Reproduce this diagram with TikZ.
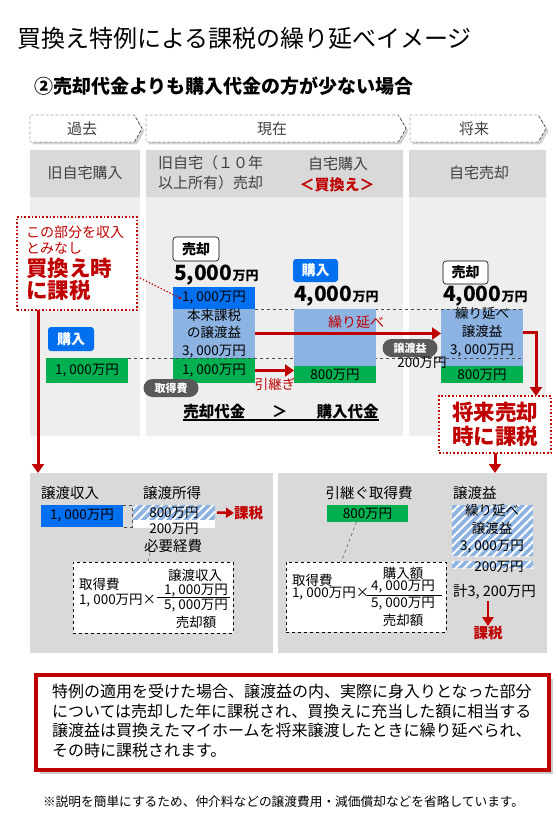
\documentclass[tikz,border=0pt]{standalone}
\usepackage{fontspec}
\setmainfont{Noto Sans CJK JP}
\usetikzlibrary{arrows.meta,patterns.meta,shadows,shapes.symbols,positioning}

\definecolor{taxred}{RGB}{192,0,0}
\definecolor{barblue}{RGB}{0,112,240}
\definecolor{gainblue}{RGB}{141,179,226}
\definecolor{costgreen}{RGB}{0,176,80}
\definecolor{panelgray}{RGB}{217,217,217}
\definecolor{dotgray}{RGB}{238,238,238}
\definecolor{pillgray}{RGB}{89,89,89}
\definecolor{headtext}{RGB}{64,64,64}

\newcommand\fsz[2]{\fontsize{#1pt}{#2pt}\selectfont}

\begin{document}
\begin{tikzpicture}[x=1pt,y=-1pt,
  every node/.style={inner sep=0pt,outer sep=0pt},
  bar/.style={anchor=north west,align=center,font=\fsz{13.5}{17.5}},
  tag/.style={anchor=north west,rounded corners=3pt,minimum width=46pt,minimum height=24pt,font=\bfseries\fsz{14}{16}},
  pill/.style={fill=pillgray,rounded corners=9pt,text=white,minimum width=55pt,minimum height=18pt,font=\bfseries\fsz{11}{13}},
  phase/.style={signal,signal to=east,signal pointer angle=120,draw,densely dashed,fill=white,anchor=west,
    minimum height=27pt,text=headtext,font=\fsz{15}{18},
    drop shadow={shadow xshift=2.5pt,shadow yshift=-2.5pt,fill=black!35}},
  headtxt/.style={text=headtext,font=\fsz{15}{20}},
  redarrow/.style={taxred,line width=3pt,-{Triangle[length=9pt,width=12pt]}},
  callout/.style={draw=taxred,line width=1.6pt,dotted,fill=white,anchor=north west},
  hatch/.style={fill=gainblue,postaction={pattern={Lines[angle=45,distance=6pt,line width=2pt]},pattern color=white}},
  guide/.style={dashed,black!70,line width=0.5pt},
  memo/.style={draw,dashed,fill=white,anchor=north west,line width=0.6pt},
  txt/.style={font=\fsz{13.5}{16}},
  label/.style={font=\fsz{14.5}{17}},
]
\useasboundingbox (0,0) rectangle (557,837);

% title
\node[anchor=west,font=\fsz{24}{28}] (title) at (17,38) {買換え特例による課税の繰り延べイメージ};
\node[anchor=west,font=\bfseries\fsz{19}{22}] (subtitle) at (34,86) {②売却代金よりも購入代金の方が少ない場合};

% time line
\node[phase,minimum width=112pt] (past) at (30,128.5) {過去};
\node[phase,minimum width=260pt] (now) at (146,128.5) {現在};
\node[phase,minimum width=136pt] (future) at (410,128.5) {将来};

\fill[dotgray] (30,197) rectangle (140,436) (146,197) rectangle (403,436) (409,197) rectangle (546,436);
\fill[panelgray] (30,150) rectangle (140,197) (146,150) rectangle (403,197) (409,150) rectangle (546,197);
\node[headtxt] (oldbuy) at (85,173) {旧自宅購入};
\node[headtxt,anchor=west,align=left] (oldsell) at (158,173) {旧自宅（１０年\\以上所有）売却};
\node[headtxt] (newbuy) at (338,164) {自宅購入};
\node[text=taxred,font=\bfseries\fsz{15}{18}] (kaikae) at (337,185) {＜買換え＞};
\node[headtxt] (futsell) at (479,173) {自宅売却};

% past
\node[callout,minimum width=120pt,minimum height=93pt] (note1) at (17,217) {};
\node[anchor=west,text=taxred,font=\fsz{14}{16}] (note1a) at (26,232) {この部分を収入};
\node[anchor=west,text=taxred,font=\fsz{14}{16}] (note1b) at (26,248) {とみなし};
\node[anchor=west,text=taxred,font=\bfseries\fsz{21.5}{24}] (note1c) at (26,268) {買換え時};
\node[anchor=west,text=taxred,font=\bfseries\fsz{21.5}{24}] (note1d) at (26,290) {に課税};
\node[tag,fill=barblue,text=white,minimum width=46pt] (oldbuytag) at (48,327) {購入};
\node[bar,fill=costgreen,minimum width=82pt,minimum height=25pt] (oldcost) at (46,358) {1, 000万円};

% now: sale
\node[tag,draw,fill=white,line width=0.6pt] (selltag) at (173,237) {売却};
\node[anchor=west] (sellamt) at (174,275) {\bfseries\fsz{21}{24}5,000\fsz{13}{15}万円};
\node[bar,fill=barblue,minimum width=82pt,minimum height=22pt] (soldcash) at (173,287) {1, 000万円};
\node[bar,fill=gainblue,minimum width=82pt,minimum height=49pt] (soldgain) at (173,309) {本来課税\\の譲渡益\\3, 000万円};
\node[bar,fill=costgreen,minimum width=82pt,minimum height=25pt] (soldcost) at (173,358) {1, 000万円};
\node[pill] (costpill) at (171,388) {取得費};

% future
\node[tag,draw,fill=white,line width=0.6pt,minimum width=45pt,minimum height=23pt] (futselltag) at (443,261) {売却};
\node[anchor=west] (futamt) at (443,296) {\bfseries\fsz{21}{24}4,000\fsz{13}{15}万円};
\node[bar,fill=gainblue,minimum width=82pt,minimum height=57pt] (futgain) at (441,309) {};
\node[txt,align=center,font=\fsz{13.5}{18}] (futgaintxt) at (482,332) {繰り延べ\\譲渡益\\3, 000万円};
\node[bar,fill=costgreen,minimum width=82pt,minimum height=17pt] (futcost) at (441,366) {800万円};

\draw[guide] (soldgain.north east) -- (futgain.north east);
\draw[guide] (oldcost.north east) -- (oldcost.north east -| futgain.east);

% now: purchase
\node[tag,fill=barblue,text=white,minimum width=45pt,minimum height=23pt] (buytag) at (293,259) {購入};
\node[anchor=west] (buyamt) at (294,296) {\bfseries\fsz{21}{24}4,000\fsz{13}{15}万円};
\node[bar,fill=gainblue,minimum width=82pt,minimum height=57pt] (newgain) at (294,309) {};
\node[bar,fill=costgreen,minimum width=82pt,minimum height=17pt] (newcost) at (294,366) {800万円};
\node[pill] (gainpill) at (410,348) {譲渡益};
\node[txt] (restamt) at (422,363) {200万円};

\draw[taxred,dotted,line width=1.3pt] ([yshift=-13pt]note1.east) -- ([xshift=7pt]soldcash.west);
\fill[taxred] ([xshift=7pt]soldcash.west) circle (1.3pt);

\draw[redarrow] (soldgain.east) -- (soldgain.east -| futgain.west);
\node[text=taxred,font=\fsz{14}{16}] (deferlbl) at (356,322) {繰り延べ};
\draw[redarrow] (soldcost.east) -- (soldcost.east -| newcost.west);
\node[text=taxred,font=\fsz{13.5}{16}] (carrylbl) at (275,384) {引継ぎ};

\node[font=\bfseries\fsz{15.5}{18}] (comp) at (281,412) {売却代金\hspace{27pt}＞\hspace{29pt}購入代金};
\draw[line width=1.4pt] ([yshift=-2pt]comp.base west) -- ([yshift=-2pt]comp.base east);

\node[callout,minimum width=112pt,minimum height=57pt] (futnote) at (439,396) {};
\node[text=taxred,font=\bfseries\fsz{21.5}{24}] (futnotea) at (495,412) {将来売却};
\node[text=taxred,font=\bfseries\fsz{21.5}{24}] (futnoteb) at (495,436) {時に課税};
\draw[redarrow] ([yshift=5pt]futgain.east) -| ([xshift=-15pt]futnote.north east);

% lower panels
\node[fill=panelgray,anchor=north west,minimum width=243pt,minimum height=180pt] (panelL) at (30,473) {};
\node[fill=panelgray,anchor=north west,minimum width=269pt,minimum height=180pt] (panelR) at (278,473) {};
\coordinate (inL) at ([xshift=8pt]panelL.north west);
\draw[redarrow] (note1.south -| inL) -- (inL);
\draw[redarrow] (futnote.south) -- (futnote.south |- panelR.north);

% lower left
\node[label,anchor=west] (incomelbl) at (41,493) {譲渡収入};
\node[label,anchor=west] (profitlbl) at (143,493) {譲渡所得};
\node[bar,fill=barblue,minimum width=82pt,minimum height=22pt] (incomebar) at (41,505) {1, 000万円};
\node[bar,hatch,minimum width=82pt,minimum height=15pt] (profitbar) at (133,505) {800万円};
\node[bar,fill=white,minimum width=82pt,minimum height=8pt] (expensebar) at (133,520) {};
\node[txt] (expenseamt) at (174,529) {200万円};
\node[label] (expense) at (173,546) {必要経費};
\draw[guide] (incomebar.north east) -- ++(9,0) |- (incomebar.south east);
\node[anchor=west,text=taxred,font=\bfseries\fsz{14.5}{17}] (taxnow) at (234,513) {課税};
\draw[taxred,line width=2.5pt,-{Triangle[length=8pt,width=10pt]}] ([xshift=2pt]profitbar.east) -- (taxnow.west);

\node[memo,minimum width=160pt,minimum height=71pt] (memoL) at (73,562) {};
\draw[guide] ([xshift=-23pt]expense.south) -- ([xshift=75pt]memoL.north west);
\node[txt,anchor=west] (memoLa) at (79,584) {取得費};
\node[txt,anchor=west] (memoLb) at (79,601) {1, 000万円×};
\node[txt] (memoLc) at (195,575) {譲渡収入};
\node[txt] (memoLd) at (196,591) {1, 000万円};
\draw[line width=0.7pt] (157,597) -- (230,597);
\node[txt] (memoLe) at (196,606) {5, 000万円};
\node[txt] (memoLf) at (196,622) {売却額};

% lower right
\node[label] (carrylbl2) at (369,493) {引継ぐ取得費};
\node[bar,fill=costgreen,minimum width=81pt,minimum height=17pt] (carrycost) at (327,505) {800万円};
\node[memo,minimum width=160pt,minimum height=70pt] (memoR) at (286,562) {};
\draw[guide] ([xshift=-11pt]carrycost.south) -- ([xshift=55pt]memoR.north west);
\node[txt,anchor=west] (memoRa) at (292,580) {取得費};
\node[txt,anchor=west] (memoRb) at (292,594) {1, 000万円×};
\node[txt] (memoRc) at (403,573) {購入額};
\node[txt] (memoRd) at (403,587) {4, 000万円};
\draw[line width=0.7pt] (367,595) -- (442,595);
\node[txt] (memoRe) at (403,604) {5, 000万円};
\node[txt] (memoRf) at (403,620) {売却額};

\node[label,anchor=west] (gainlbl) at (453,493) {譲渡益};
\node[bar,hatch,minimum width=81pt,minimum height=51pt] (defgain) at (452,505) {};
\node[txt,align=center,font=\fsz{13.5}{17.5}] (defgaintxt) at (492,529) {繰り延べ\\譲渡益\\3, 000万円};
\node[bar,hatch,minimum width=81pt,minimum height=7pt] (defrest) at (452,561) {};
\node[txt] (defrestamt) at (499,567) {200万円};
\node[label,anchor=west] (total) at (453,592) {計3, 200万円};
\node[text=taxred,font=\bfseries\fsz{14.5}{17}] (taxlater) at (488,633) {課税};
\draw[taxred,line width=2.5pt,-{Triangle[length=9pt,width=11pt]}] (taxlater.north |- total.south) ++(0,2) -- (taxlater.north);

% summary
\node[draw=taxred,line width=3.5pt,fill=white,anchor=north west,minimum width=513pt,minimum height=95pt,
  drop shadow={shadow xshift=4pt,shadow yshift=-4pt,fill=black!40}] (summary) at (36,675) {};
\node[anchor=north west,align=left,font=\fsz{16}{19.7}] (summarytxt) at (52,684)
  {特例の適用を受けた場合、譲渡益の内、実際に身入りとなった部分\\については売却した年に課税され、買換えに充当した額に相当する\\譲渡益は買換えたマイホームを将来譲渡したときに繰り延べられ、\\その時に課税されます。};
\node[anchor=west,font=\fsz{12.7}{15}] (footnote) at (43,802) {※説明を簡単にするため、仲介料などの譲渡費用・減価償却などを省略しています。};
\end{tikzpicture}
\end{document}
